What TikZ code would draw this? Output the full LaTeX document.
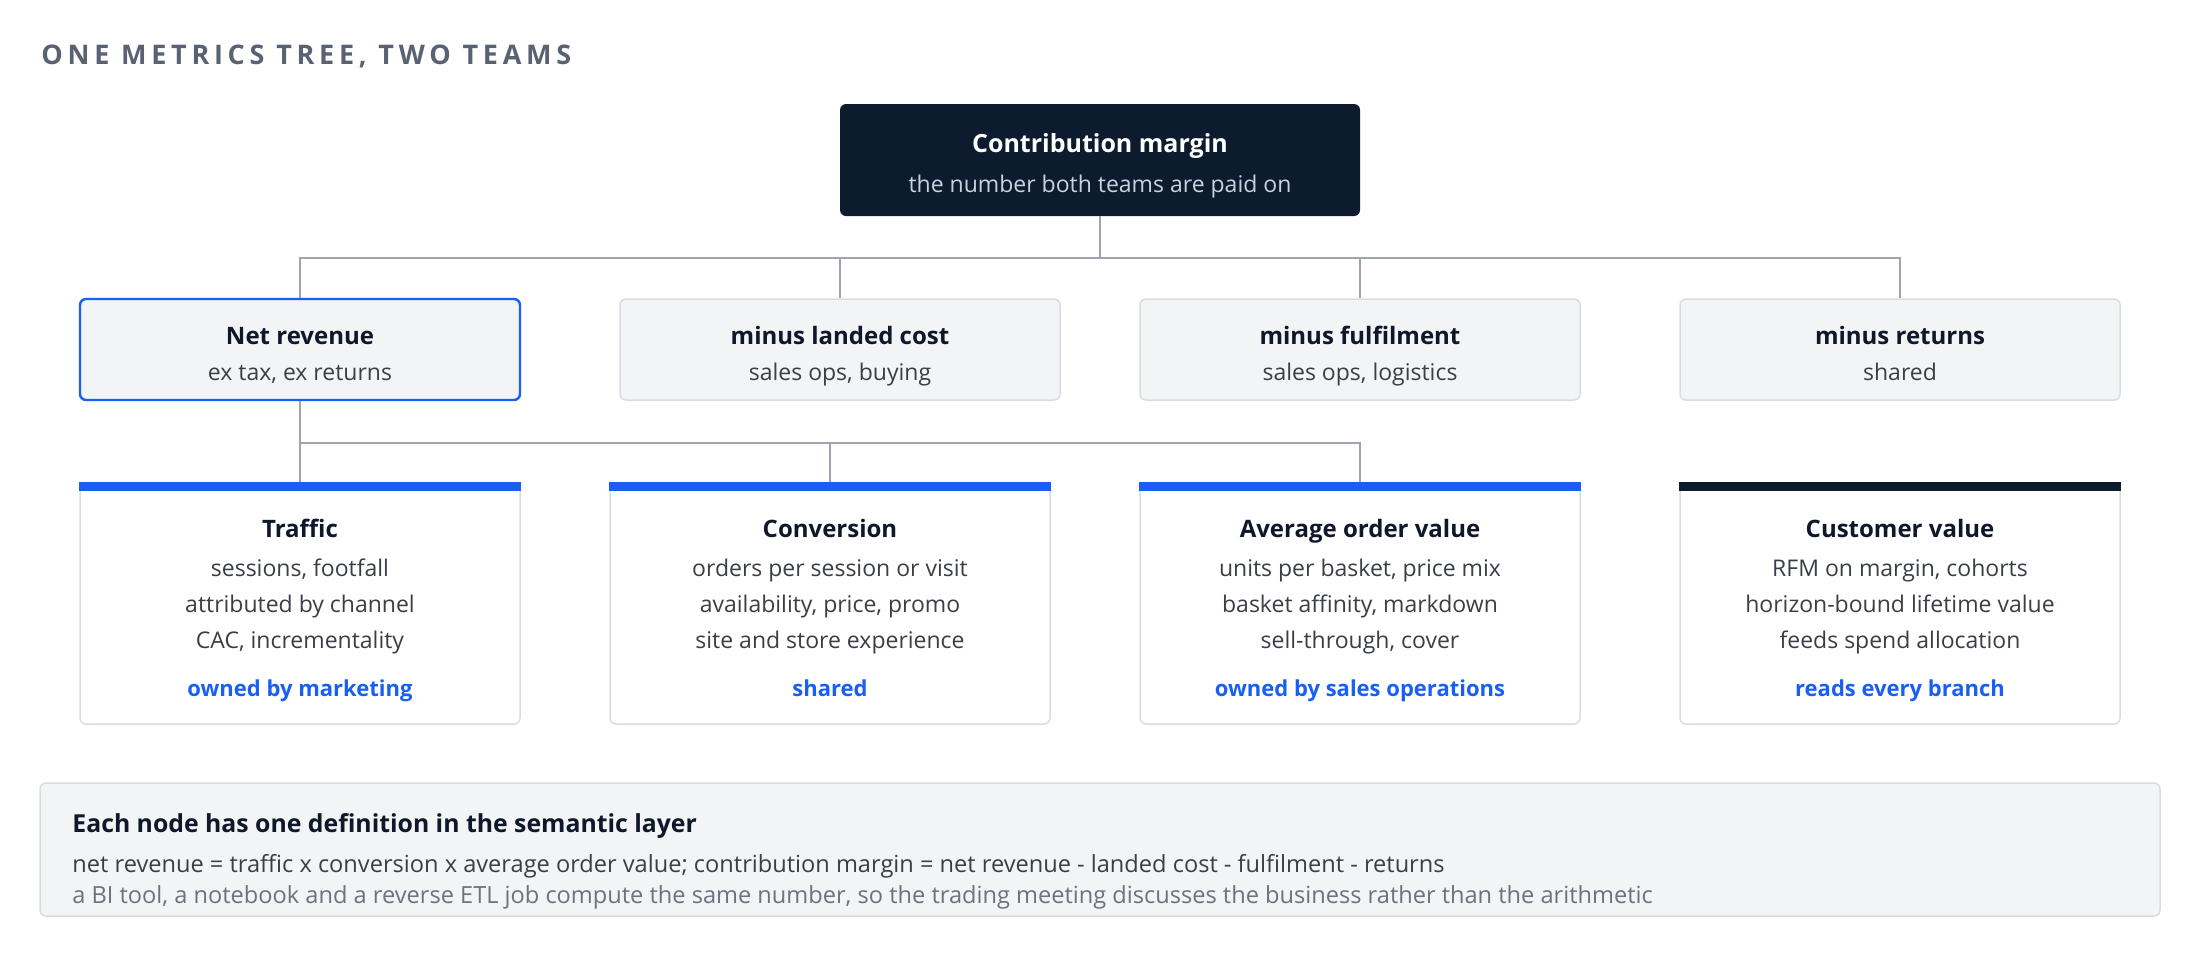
\documentclass[tikz,border=0pt]{standalone}
\usepackage{fontspec}
\setmainfont{Open Sans}
\newfontfamily\trackfont[LetterSpace=17.5]{Open Sans}
\usepackage{tikz}

\definecolor{navy}{HTML}{0D1B2E}
\definecolor{ink}{HTML}{0F172A}
\definecolor{subink}{HTML}{3A3F47}
\definecolor{mutedink}{HTML}{6B7280}
\definecolor{titlegray}{HTML}{596273}
\definecolor{topsub}{HTML}{C9D2DE}
\definecolor{ownblue}{HTML}{1A5FF4}
\definecolor{boxfill}{HTML}{F3F4F6}
\definecolor{boxline}{HTML}{D9DCE1}
\definecolor{linkgray}{HTML}{9EA5B0}

\begin{document}
\begin{tikzpicture}[x=0.5pt,y=-0.5pt,
  link/.style={draw=linkgray,line width=1pt},
  top node/.style={fill=navy,rounded corners=3pt,minimum width=260pt,minimum height=56pt,inner sep=0pt},
  cost node/.style={draw=boxline,fill=boxfill,line width=0.75pt,rounded corners=3pt,minimum width=220pt,minimum height=50.5pt,inner sep=0pt},
  driver node/.style={draw=boxline,fill=white,line width=0.75pt,rounded corners=3pt,minimum width=220pt,minimum height=120.5pt,inner sep=0pt},
  head/.style={anchor=base,inner sep=0pt,text=ink,font=\bfseries\fontsize{12}{14}\selectfont},
  sub/.style={anchor=base,inner sep=0pt,text=subink,font=\fontsize{11.5}{13}\selectfont},
  owner/.style={anchor=base,inner sep=0pt,text=ownblue,font=\bfseries\fontsize{11}{13}\selectfont}]
\useasboundingbox (0,0) rectangle (2200,960);

\node[anchor=base west,inner sep=0pt,text=titlegray,font=\trackfont\bfseries\fontsize{13.5}{15}\selectfont] (ttl) at (41,64) {ONE METRICS TREE, TWO TEAMS};

% root
\node[top node] (cm) at (1100,160) {};
\node[head,text=white,font=\bfseries\fontsize{12.5}{15}\selectfont] (cm-h) at (1100,152) {Contribution margin};
\node[sub,text=topsub] (cm-s) at (1100,192) {the number both teams are paid on};

% first level
\node[cost node,draw=ownblue,line width=1.2pt] (nr) at (300,349.5) {};
\node[cost node] (lc) at (840,349.5) {};
\node[cost node] (ff) at (1360,349.5) {};
\node[cost node] (rt) at (1900,349.5) {};
\node[head] (nr-h) at (300,344) {Net revenue};
\node[sub] (nr-s) at (300,380) {ex tax, ex returns};
\node[head] (lc-h) at (840,344) {minus landed cost};
\node[sub] (lc-s) at (840,380) {sales ops, buying};
\node[head] (ff-h) at (1360,344) {minus fulfilment};
\node[sub] (ff-s) at (1360,380) {sales ops, logistics};
\node[head] (rt-h) at (1900,344) {minus returns};
\node[sub] (rt-s) at (1900,380) {shared};

% drivers
\node[driver node] (tr) at (300,603.5) {};
\node[driver node] (cv) at (830,603.5) {};
\node[driver node] (ao) at (1360,603.5) {};
\node[driver node] (cu) at (1900,603.5) {};
\fill[ownblue] (tr.north west) rectangle ([yshift=-4.5pt]tr.north east);
\fill[ownblue] (cv.north west) rectangle ([yshift=-4.5pt]cv.north east);
\fill[ownblue] (ao.north west) rectangle ([yshift=-4.5pt]ao.north east);
\fill[navy] (cu.north west) rectangle ([yshift=-4.5pt]cu.north east);

\node[head] (tr-h) at (300,537) {Traffic};
\node[sub] (tr-1) at (300,576) {sessions, footfall};
\node[sub] (tr-2) at (300,612) {attributed by channel};
\node[sub] (tr-3) at (300,648) {CAC, incrementality};
\node[owner] (tr-o) at (300,696) {owned by marketing};

\node[head] (cv-h) at (830,537) {Conversion};
\node[sub] (cv-1) at (830,576) {orders per session or visit};
\node[sub] (cv-2) at (830,612) {availability, price, promo};
\node[sub] (cv-3) at (830,648) {site and store experience};
\node[owner] (cv-o) at (830,696) {shared};

\node[head] (ao-h) at (1360,537) {Average order value};
\node[sub] (ao-1) at (1360,576) {units per basket, price mix};
\node[sub] (ao-2) at (1360,612) {basket affinity, markdown};
\node[sub] (ao-3) at (1360,648) {sell-through, cover};
\node[owner] (ao-o) at (1360,696) {owned by sales operations};

\node[head] (cu-h) at (1900,537) {Customer value};
\node[sub] (cu-1) at (1900,576) {RFM on margin, cohorts};
\node[sub] (cu-2) at (1900,612) {horizon-bound lifetime value};
\node[sub] (cu-3) at (1900,648) {feeds spend allocation};
\node[owner] (cu-o) at (1900,696) {reads every branch};

% connectors
\coordinate (bus1) at (1100,258);
\coordinate (bus2) at (300,443);
\draw[link] (cm.south) -- (bus1);
\draw[link] (bus1) -| (nr.north);
\draw[link] (bus1) -| (lc.north);
\draw[link] (bus1) -| (ff.north);
\draw[link] (bus1) -| (rt.north);
\draw[link] (nr.south) -- (bus2);
\draw[link] (bus2) -| (tr.north);
\draw[link] (bus2) -| (cv.north);
\draw[link] (bus2) -| (ao.north);

% semantic layer note
\node[cost node,minimum width=1060pt,minimum height=66.5pt] (sem) at (1100,849.5) {};
\node[head,anchor=base west,font=\bfseries\fontsize{12.4}{14}\selectfont] (sem-h) at (72,832) {Each node has one definition in the semantic layer};
\node[sub,anchor=base west,font=\fontsize{11.8}{13}\selectfont] (sem-1) at (72,872) {net revenue = traffic x conversion x average order value; contribution margin = net revenue - landed cost - fulfilment - returns};
\node[sub,anchor=base west,text=mutedink,font=\fontsize{11.8}{13}\selectfont] (sem-2) at (72,903) {a BI tool, a notebook and a reverse ETL job compute the same number, so the trading meeting discusses the business rather than the arithmetic};
\end{tikzpicture}
\end{document}
